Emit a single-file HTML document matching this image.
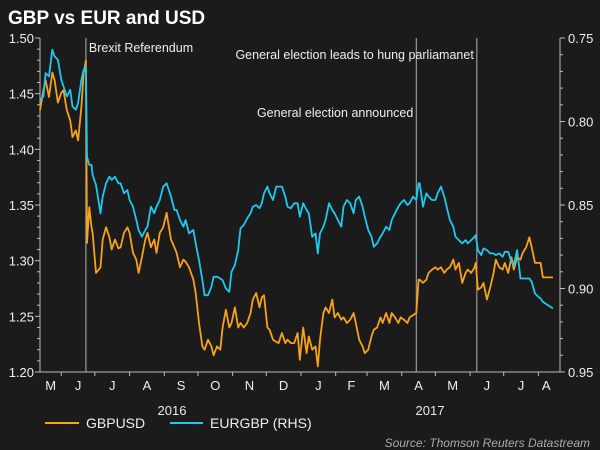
<!DOCTYPE html>
<html><head><meta charset="utf-8">
<style>
html,body{margin:0;padding:0;background:#1b1b1b;}
svg{display:block;font-family:"Liberation Sans",Arial,sans-serif;}
</style></head>
<body>
<svg id="chart" width="600" height="450" viewBox="0 0 600 450">
<rect x="0" y="0" width="600" height="450" fill="#1b1b1b"/>
<text x="8" y="24" fill="#fff" font-size="19" font-weight="bold">GBP vs EUR and USD</text>
<g id="axes"></g>
<g id="events"></g>
<g id="series"></g>
<text x="172" y="415" fill="#e8e8e8" font-size="13" text-anchor="middle">2016</text>
<text x="430" y="415" fill="#e8e8e8" font-size="13" text-anchor="middle">2017</text>
<g>
<line x1="45" y1="423" x2="79" y2="423" stroke="#f7a21b" stroke-width="2"/>
<text x="86" y="428" fill="#eee" font-size="14">GBPUSD</text>
<line x1="170" y1="423" x2="203" y2="423" stroke="#1ec8f0" stroke-width="2"/>
<text x="210" y="428" fill="#eee" font-size="14">EURGBP (RHS)</text>
</g>
<text x="590" y="447" fill="#aaa" font-size="12" font-style="italic" text-anchor="end">Source: Thomson Reuters Datastream</text>
</svg>
<script>
// days since 2016-05-01
const days = [12,15,17,20,23,25,28,31,33,36,39,41,44,46,49,51,53,54,56,58,59,62,66,68,71,74,76,79,82,84,87,90,92,95,98,100,103,106,108,111,114,116,119,122,125,126,129,132,134,137,140,142,145,149,151,154,157,159,162,165,167,170,173,175,178,181,183,186,189,191,194,197,200,202,205,208,210,212,215,217,220,223,225,228,231,233,236,239,242,244,247,250,252,255,258,260,262,265,267,270,273,275,278,281,283,286,289,292,294,297,300,302,305,308,310,313,316,318,321,324,326,329,332,334,337,340,342,345,348,350,351,354,357,359,362,365,367,370,373,375,378,381,383,386,389,392,394,397,400,401,403,406,408,411,414,417,419,422,425,427,430,433,435,438,441,443,446,449,451,454,457,459,461,470];
const gbpusd = [1.435,1.453,1.462,1.447,1.469,1.462,1.442,1.451,1.453,1.435,1.426,1.411,1.417,1.408,1.438,1.469,1.480,1.316,1.348,1.330,1.325,1.289,1.294,1.319,1.330,1.321,1.310,1.319,1.311,1.312,1.325,1.330,1.325,1.307,1.301,1.289,1.303,1.319,1.325,1.312,1.319,1.307,1.325,1.330,1.343,1.337,1.319,1.312,1.307,1.294,1.301,1.299,1.294,1.283,1.271,1.244,1.223,1.220,1.229,1.223,1.215,1.223,1.220,1.240,1.256,1.240,1.244,1.258,1.240,1.244,1.240,1.244,1.253,1.265,1.271,1.258,1.267,1.269,1.240,1.238,1.229,1.227,1.226,1.235,1.226,1.229,1.226,1.226,1.235,1.211,1.240,1.217,1.232,1.220,1.223,1.205,1.229,1.253,1.258,1.253,1.265,1.249,1.253,1.247,1.249,1.244,1.247,1.253,1.244,1.229,1.223,1.217,1.220,1.232,1.238,1.240,1.249,1.244,1.253,1.244,1.253,1.249,1.244,1.249,1.247,1.244,1.249,1.251,1.253,1.283,1.283,1.280,1.283,1.289,1.292,1.294,1.292,1.294,1.289,1.292,1.294,1.301,1.292,1.298,1.280,1.289,1.292,1.289,1.294,1.298,1.274,1.276,1.280,1.265,1.276,1.289,1.301,1.294,1.292,1.298,1.289,1.303,1.292,1.303,1.301,1.307,1.312,1.321,1.312,1.298,1.298,1.298,1.285,1.285];
const eurgbp = [0.787,0.785,0.771,0.773,0.757,0.761,0.763,0.775,0.779,0.785,0.781,0.791,0.793,0.789,0.775,0.769,0.767,0.821,0.826,0.826,0.832,0.838,0.855,0.845,0.837,0.833,0.835,0.833,0.837,0.837,0.843,0.841,0.847,0.851,0.859,0.865,0.869,0.865,0.863,0.851,0.855,0.851,0.847,0.839,0.837,0.839,0.845,0.853,0.853,0.859,0.863,0.859,0.867,0.865,0.873,0.883,0.895,0.904,0.904,0.899,0.893,0.893,0.894,0.895,0.900,0.902,0.890,0.886,0.877,0.864,0.862,0.858,0.855,0.851,0.850,0.852,0.849,0.843,0.839,0.843,0.847,0.839,0.839,0.839,0.845,0.851,0.852,0.849,0.849,0.857,0.849,0.853,0.855,0.869,0.867,0.879,0.867,0.863,0.859,0.849,0.853,0.855,0.859,0.863,0.851,0.847,0.849,0.855,0.847,0.845,0.851,0.857,0.865,0.869,0.875,0.873,0.869,0.867,0.863,0.865,0.859,0.855,0.851,0.849,0.847,0.850,0.849,0.845,0.847,0.837,0.837,0.851,0.843,0.845,0.847,0.847,0.843,0.839,0.845,0.851,0.859,0.863,0.869,0.871,0.873,0.871,0.873,0.871,0.869,0.868,0.877,0.880,0.876,0.877,0.879,0.879,0.880,0.879,0.881,0.878,0.878,0.884,0.886,0.877,0.894,0.894,0.894,0.894,0.896,0.903,0.905,0.906,0.908,0.912];
const leftTicks = [1.20,1.25,1.30,1.35,1.40,1.45,1.50];
const rightTicks = [0.75,0.80,0.85,0.90,0.95];
const monthStarts = [31,61,92,123,153,184,214,245,276,304,335,365,396,426,457];
const monthLabels = ["M","J","J","A","S","O","N","D","J","F","M","A","M","J","J","A"];
const eventDays = [53,348,402];

const NS="http://www.w3.org/2000/svg";
const X0=40,X1=560,Y0=38,Y1=372;
const xs=d=>X0+(d-12)*1.12;
const yL=v=>Y1-(v-1.20)/0.30*(Y1-Y0);
const yR=v=>Y0+(v-0.75)/0.20*(Y1-Y0);
function mk(tag,attrs,parent){const e=document.createElementNS(NS,tag);for(const k in attrs)e.setAttribute(k,attrs[k]);parent.appendChild(e);return e;}
const axes=document.getElementById('axes');
const gray="#bdbdbd";
let e;
e=mk('line',{x1:X0,y1:Y0,x2:X0,y2:Y1,stroke:gray,'stroke-width':1},axes);


e=mk('line',{x1:X1,y1:Y0,x2:X1,y2:Y1,stroke:gray,'stroke-width':1},axes);


e=mk('line',{x1:X0,y1:Y1,x2:X1,y2:Y1,stroke:gray,'stroke-width':1},axes);


for(let i=0;i<=30;i++){const v=1.20+i*0.01;const y=yL(v);const major=i%5===0;
  e=mk('line',{x1:X0-(major?5:3),y1:y,x2:X0,y2:y,stroke:gray,'stroke-width':1},axes);
  
  }
leftTicks.forEach(v=>{e=mk('text',{x:X0-6,y:yL(v)+5,fill:'#eee','font-size':13,'text-anchor':'end'},axes);e.textContent=v.toFixed(2);
  
  });
for(let i=0;i<=20;i++){const v=0.75+i*0.01;const y=yR(v);const major=i%5===0;
  e=mk('line',{x1:X1,y1:y,x2:X1+(major?5:3),y2:y,stroke:gray,'stroke-width':1},axes);
  
  }
rightTicks.forEach(v=>{e=mk('text',{x:X1+8,y:yR(v)+5,fill:'#eee','font-size':13},axes);e.textContent=v.toFixed(2);
  
  });
monthStarts.forEach(d=>{const x=xs(d);e=mk('line',{x1:x,y1:Y1,x2:x,y2:Y1+4,stroke:gray,'stroke-width':1},axes);
  
  });
monthLabels.forEach((m,i)=>{const a=i===0?X0:xs(monthStarts[i-1]);const b=i<monthStarts.length?xs(monthStarts[i]):X1-6;
  e=mk('text',{x:(a+b)/2,y:Y1+18,fill:'#eee','font-size':13,'text-anchor':'middle'},axes);e.textContent=m;
  
  });
const ev=document.getElementById('events');
eventDays.forEach(d=>{const x=xs(d);e=mk('line',{x1:x,y1:Y0,x2:x,y2:Y1,stroke:'#9a9a9a','stroke-width':1.2},ev);
  
  });
e=mk('text',{x:xs(eventDays[0])+3,y:52,fill:'#eee','font-size':12.5},ev);e.textContent='Brexit Referendum';


e=mk('text',{x:xs(eventDays[2])-3,y:59,fill:'#eee','font-size':12.5,'text-anchor':'end'},ev);e.textContent='General election leads to hung parliamanet';


e=mk('text',{x:xs(eventDays[1])-3,y:117,fill:'#eee','font-size':12.5,'text-anchor':'end'},ev);e.textContent='General election announced';


const sg=document.getElementById('series');
const pOr=days.map((d,i)=>xs(d).toFixed(1)+','+yL(gbpusd[i]).toFixed(1)).join(' ');
const pBl=days.map((d,i)=>xs(d).toFixed(1)+','+yR(eurgbp[i]).toFixed(1)).join(' ');
e=mk('polyline',{points:pOr,fill:'none',stroke:'#f7a21b','stroke-width':1.8,'stroke-linejoin':'round'},sg);


e=mk('polyline',{points:pBl,fill:'none',stroke:'#1ec8f0','stroke-width':1.8,'stroke-linejoin':'round'},sg);


</script>
</body></html>
